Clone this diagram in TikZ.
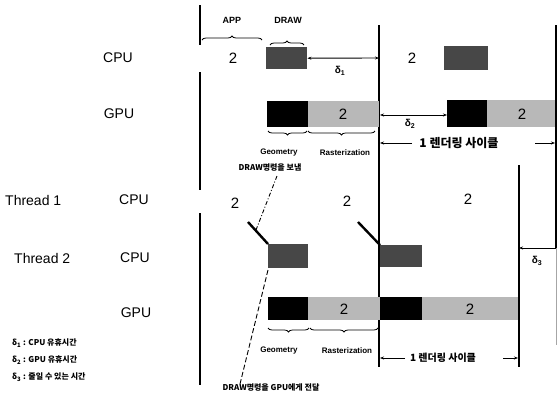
\documentclass[tikz,border=0pt]{standalone}
\usepackage{fontspec}
\setmainfont{Liberation Sans}
\newfontfamily\kr{Noto Sans CJK KR}
\usetikzlibrary{decorations.pathreplacing,arrows.meta}
\newcommand{\dl}[1]{{\bfseries δ\textsubscript{#1}}}
\begin{document}
\begin{tikzpicture}[x=1pt,y=-1pt,
  lbl/.style={font=\fontsize{14}{14}\selectfont, inner sep=0pt},
  num/.style={font=\fontsize{15}{15}\selectfont, inner sep=0pt},
  sm/.style={font=\bfseries\fontsize{8}{9}\selectfont, inner sep=0pt},
  smt/.style={font=\bfseries\fontsize{9}{9}\selectfont, inner sep=0pt},
  dlab/.style={font=\fontsize{10}{10}\selectfont, inner sep=0pt},
  krs/.style={font=\kr\bfseries\fontsize{8}{9}\selectfont, inner sep=0pt},
  krm/.style={font=\kr\bfseries\fontsize{12}{12}\selectfont, inner sep=1pt},
  cpubox/.style={fill=black!72, draw=none, inner sep=0pt, anchor=north west},
  geombox/.style={fill=black, draw=none, inner sep=0pt, anchor=north west},
  rastbox/.style={fill=black!28, draw=none, inner sep=0pt, anchor=north west},
  vline/.style={line width=1.1pt},
  brc/.style={decorate, decoration={brace, amplitude=4pt}, line width=0.8pt},
  brcm/.style={decorate, decoration={brace, amplitude=4pt, mirror}, line width=0.8pt},
  dim/.style={line width=0.9pt, {Stealth[length=4pt,width=3pt]}-{Stealth[length=4pt,width=3pt]}},
  dimr/.style={line width=0.9pt, -{Stealth[length=4pt,width=3pt]}},
  slant/.style={line width=2.4pt}
]
\useasboundingbox (0,0) rectangle (558,394);

% ---- vertical lines
\coordinate (a0) at (200,5);   \coordinate (a1) at (200,45);
\coordinate (a2) at (200,72);  \coordinate (a3) at (200,190);
\coordinate (a4) at (200,213); \coordinate (a5) at (200,385);
\draw[vline] (a0) -- (a1);
\draw[vline] (a2) -- (a3);
\draw[vline] (a4) -- (a5);
\coordinate (m0) at (379,25);  \coordinate (m1) at (379,367);
\draw[vline] (m0) -- (m1);
\coordinate (r0) at (556,25);  \coordinate (r1) at (556,248);
\coordinate (r2) at (556,345);
\draw[vline] (r0) -- (r1);
\draw[line width=0.5pt, black!35] (r1) -- (r2);
\coordinate (s0) at (519,165); \coordinate (s1) at (519,367);
\draw[vline] (s0) -- (s1);

% ---- left labels
\node[lbl] (cpuA) at (118,58) {CPU};
\node[lbl] (gpuA) at (119,114) {GPU};
\node[lbl, anchor=west] (th1) at (5,200) {Thread 1};
\node[lbl] (cpuB) at (134,200) {CPU};
\node[lbl, anchor=west] (th2) at (14,258) {Thread 2};
\node[lbl] (cpuC) at (135,258) {CPU};
\node[lbl] (gpuC) at (136,313) {GPU};

% ---- top: APP / DRAW braces
\coordinate (ab0) at (202,40); \coordinate (ab1) at (262,40);
\draw[brc] (ab0) -- (ab1);
\node[smt] (app) at (232,20) {APP};
\coordinate (db0) at (270,45); \coordinate (db1) at (304,45);
\draw[brc] (db0) -- (db1);
\node[smt] (draw) at (288,20) {DRAW};

% ---- top CPU row
\node[num] (n1) at (233,58) {2};
\node[cpubox, minimum width=41, minimum height=22] (c1) at (266,47) {};
\node[num] (n2) at (412,58) {2};
\node[cpubox, minimum width=44, minimum height=24] (c2) at (444,46) {};
\coordinate (d1e) at (379,58);
\draw[dim] (c1.east) -- (d1e);
\node[dlab] (d1) at (340,71) {\dl{1}};

% ---- top GPU row
\node[geombox, minimum width=41, minimum height=26] (g1) at (267,101) {};
\node[rastbox, minimum width=71, minimum height=26] (rr1) at (308,101) {};
\node[num] at (343,114) {2};
\node[geombox, minimum width=40, minimum height=27] (g2) at (447,100) {};
\node[rastbox, minimum width=68, minimum height=27] (rr2) at (487,100) {};
\node[num] at (522,114) {2};
\coordinate (d2s) at (380,115);
\draw[dim] (d2s) -- (d2s -| g2.west);
\node[dlab] (d2) at (410,124) {\dl{2}};

% ---- braces under top GPU row
\coordinate (gb0) at (268,131); \coordinate (gb1) at (307,131);
\coordinate (gb2) at (308,131); \coordinate (gb3) at (375,131);
\draw[brcm] (gb0) -- (gb1);
\draw[brcm] (gb2) -- (gb3);
\node[sm] (geo1) at (279,153) {Geometry};
\node[sm] (ras1) at (345,153) {Rasterization};

% ---- 1 rendering cycle (top)
\node[krm] (cyc1) at (459,143) {1 렌더링 사이클};
\coordinate (cy1l) at (380,143); \coordinate (cy1r) at (555,143);
\draw[dimr] (412,143) -- (cy1l);
\draw[dimr] (535,143) -- (cy1r);

% ---- Thread 1 row
\node[krs] (send) at (270,168) {DRAW명령을 보냄};
\node[num] (n3) at (235,203) {2};
\node[num] (n4) at (347,201) {2};
\node[num] (n5) at (468,199) {2};

% ---- Thread 2 CPU row
\node[cpubox, minimum width=40, minimum height=24] (c3) at (268,244) {};
\node[cpubox, minimum width=42, minimum height=22] (c4) at (380,245) {};
\coordinate (sl1) at (248,222);
\coordinate (sl2) at (358,222);
\draw[slant] (sl1) -- (c3.north west);
\draw[slant] (sl2) -- (c4.north west);
\coordinate (dd0) at (277,176); \coordinate (dd1) at (256,230);
\draw[line width=0.9pt, dash pattern=on 4pt off 2pt on 1pt off 2pt] (dd0) -- (dd1);
\coordinate (dl0) at (268,270);
\node[krs] (deliver) at (271,388) {DRAW명령을 GPU에게 전달};
\draw[line width=0.9pt, dash pattern=on 5pt off 2.5pt] (dl0) -- (deliver.north west -| 240,0);

% ---- delta3
\coordinate (d3r) at (556,248); \coordinate (d3l) at (519,248);
\draw[dimr] (d3r) -- (d3l);
\node[dlab] (d3) at (537,261) {\dl{3}};

% ---- Thread 2 GPU row
\node[geombox, minimum width=40, minimum height=23] (g3) at (268,297) {};
\node[rastbox, minimum width=72, minimum height=23] (rr3) at (308,297) {};
\node[num] at (344,309) {2};
\node[geombox, minimum width=42, minimum height=23] (g4) at (380,297) {};
\node[rastbox, minimum width=96, minimum height=23] (rr4) at (422,297) {};
\node[num] at (470,309) {2};

\coordinate (hb0) at (268,328); \coordinate (hb1) at (309,328);
\coordinate (hb2) at (310,328); \coordinate (hb3) at (378,328);
\draw[brcm] (hb0) -- (hb1);
\draw[brcm] (hb2) -- (hb3);
\node[sm] (geo2) at (279,351) {Geometry};
\node[sm] (ras2) at (347,351) {Rasterization};

% ---- 1 rendering cycle (bottom)
\node[krs, font=\kr\bfseries\fontsize{10}{10}\selectfont] (cyc2) at (443,358) {1 렌더링 사이클};
\coordinate (cy2l) at (380,358); \coordinate (cy2r) at (518,358);
\draw[dimr] (405,358) -- (cy2l);
\draw[dimr] (503,358) -- (cy2r);

% ---- legend
\node[krs, anchor=west] (lg1) at (12,343) {\dl{1} : CPU 유휴시간};
\node[krs, anchor=west] (lg2) at (12,360) {\dl{2} : GPU 유휴시간};
\node[krs, anchor=west] (lg3) at (12,377) {\dl{3} : 줄일 수 있는 시간};
\end{tikzpicture}
\end{document}
